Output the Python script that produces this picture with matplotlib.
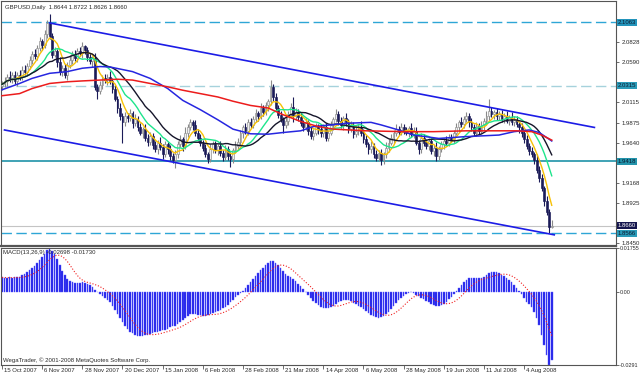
import numpy as np
import pandas as pd
import matplotlib
matplotlib.use("Agg")
import matplotlib.pyplot as plt
import matplotlib.transforms as mtransforms

plt.rcParams['font.family'] = ['Liberation Sans', 'DejaVu Sans']

# ---------------- data ----------------
opens = [
 2.0310, 2.0330, 2.0365, 2.0420, 2.0395, 2.0440, 2.0370, 2.0445, 2.0420, 2.0505,
 2.0480, 2.0545, 2.0620, 2.0690, 2.0660, 2.0760, 2.0840, 2.0800, 2.0920, 2.1050,
 2.0900, 2.0680, 2.0720, 2.0590, 2.0480, 2.0520, 2.0440, 2.0560, 2.0620, 2.0690,
 2.0640, 2.0720, 2.0700, 2.0780, 2.0730, 2.0650, 2.0600, 2.0640, 2.0300, 2.0250,
 2.0320, 2.0400, 2.0380, 2.0420, 2.0370, 2.0280, 2.0160, 2.0050, 1.9950, 1.9880,
 1.9960, 1.9930, 1.9990, 1.9870, 1.9920, 1.9830, 1.9760, 1.9800, 1.9700, 1.9650,
 1.9720, 1.9610, 1.9560, 1.9640, 1.9590, 1.9500, 1.9620, 1.9560, 1.9480, 1.9440,
 1.9500, 1.9620, 1.9680, 1.9600, 1.9760, 1.9820, 1.9880, 1.9850, 1.9760, 1.9700,
 1.9640, 1.9580, 1.9500, 1.9450, 1.9560, 1.9620, 1.9550, 1.9600, 1.9520, 1.9470,
 1.9560, 1.9480, 1.9450, 1.9550, 1.9600, 1.9650, 1.9750, 1.9820, 1.9780, 1.9880,
 1.9850, 1.9920, 1.9990, 1.9950, 2.0050, 2.0000, 2.0080, 2.0130, 2.0300, 2.0180,
 2.0050, 1.9970, 1.9920, 1.9850, 1.9900, 1.9980, 2.0060, 1.9950, 2.0000, 1.9940,
 1.9870, 1.9820, 1.9880, 1.9780, 1.9720, 1.9760, 1.9830, 1.9800, 1.9750, 1.9820,
 1.9700, 1.9760, 1.9850, 1.9920, 1.9980, 1.9900, 1.9850, 1.9930, 1.9880, 1.9800,
 1.9850, 1.9740, 1.9780, 1.9830, 1.9760, 1.9680, 1.9620, 1.9560, 1.9600, 1.9500,
 1.9460, 1.9520, 1.9440, 1.9500, 1.9580, 1.9640, 1.9700, 1.9760, 1.9800, 1.9770,
 1.9820, 1.9780, 1.9760, 1.9810, 1.9740, 1.9780, 1.9640, 1.9560, 1.9700, 1.9640,
 1.9600, 1.9660, 1.9540, 1.9580, 1.9480, 1.9560, 1.9620, 1.9660, 1.9640, 1.9700,
 1.9680, 1.9760, 1.9820, 1.9880, 1.9860, 1.9920, 1.9960, 1.9880, 1.9820, 1.9760,
 1.9840, 1.9780, 1.9850, 1.9900, 1.9950, 2.0020, 1.9980, 2.0000, 1.9950, 1.9980,
 1.9920, 1.9960, 1.9900, 1.9940, 1.9880, 1.9910, 1.9860, 1.9820, 1.9750, 1.9680,
 1.9600, 1.9540, 1.9500, 1.9440, 1.9320, 1.9220, 1.9100, 1.8950, 1.8820, 1.8644]

highs = [
 2.0365, 2.0415, 2.0448, 2.0482, 2.0480, 2.0485, 2.0475, 2.0500, 2.0543, 2.0553,
 2.0580, 2.0670, 2.0718, 2.0752, 2.0800, 2.0885, 2.0870, 2.0975, 2.1088, 2.1161,
 2.0935, 2.0770, 2.0748, 2.0652, 2.0560, 2.0565, 2.0590, 2.0675, 2.0728, 2.0738,
 2.0755, 2.0770, 2.0825, 2.0800, 2.0770, 2.0695, 2.0670, 2.0695, 2.0338, 2.0368,
 2.0435, 2.0450, 2.0448, 2.0482, 2.0410, 2.0325, 2.0190, 2.0105, 1.9988, 2.0008,
 1.9995, 2.0040, 2.0018, 1.9982, 1.9960, 1.9875, 1.9830, 1.9855, 1.9738, 1.9768,
 1.9755, 1.9660, 1.9668, 1.9702, 1.9630, 1.9665, 1.9650, 1.9615, 1.9518, 1.9548,
 1.9655, 1.9730, 1.9708, 1.9822, 1.9860, 1.9925, 1.9910, 1.9905, 1.9798, 1.9748,
 1.9675, 1.9630, 1.9528, 1.9622, 1.9660, 1.9665, 1.9630, 1.9655, 1.9558, 1.9608,
 1.9595, 1.9530, 1.9578, 1.9662, 1.9690, 1.9795, 1.9850, 1.9875, 1.9918, 1.9928,
 1.9955, 2.0040, 2.0018, 2.0112, 2.0090, 2.0125, 2.0160, 2.0385, 2.0338, 2.0228,
 2.0085, 2.0020, 1.9948, 1.9962, 2.0020, 2.0105, 2.0175, 2.0055, 2.0038, 1.9988,
 1.9905, 1.9930, 1.9908, 1.9842, 1.9800, 1.9875, 1.9860, 1.9855, 1.9858, 1.9868,
 1.9795, 1.9900, 1.9948, 2.0042, 2.0020, 1.9945, 1.9960, 1.9985, 1.9918, 1.9898,
 1.9885, 1.9830, 1.9858, 1.9892, 1.9800, 1.9725, 1.9650, 1.9655, 1.9638, 1.9548,
 1.9555, 1.9570, 1.9528, 1.9642, 1.9680, 1.9745, 1.9790, 1.9855, 1.9838, 1.9868,
 1.9855, 1.9830, 1.9838, 1.9872, 1.9820, 1.9825, 1.9670, 1.9755, 1.9738, 1.9688,
 1.9695, 1.9710, 1.9608, 1.9642, 1.9600, 1.9665, 1.9690, 1.9715, 1.9738, 1.9748,
 1.9795, 1.9870, 1.9908, 1.9942, 1.9960, 2.0005, 1.9990, 1.9935, 1.9858, 1.9888,
 1.9875, 1.9900, 1.9928, 2.0012, 2.0158, 2.0065, 2.0030, 2.0055, 2.0018, 2.0028,
 1.9995, 2.0010, 1.9968, 2.0002, 1.9950, 1.9955, 1.9890, 1.9875, 1.9788, 1.9728,
 1.9635, 1.9590, 1.9528, 1.9502, 1.9360, 1.9265, 1.9130, 1.9005, 1.8858, 1.8722]

lows = [
 2.0268, 2.0300, 2.0310, 2.0359, 2.0347, 2.0337, 2.0310, 2.0380, 2.0375, 2.0442,
 2.0438, 2.0515, 2.0565, 2.0624, 2.0612, 2.0727, 2.0740, 2.0760, 2.0875, 2.0862,
 2.0638, 2.0650, 2.0535, 2.0444, 2.0432, 2.0407, 2.0380, 2.0520, 2.0575, 2.0602,
 2.0598, 2.0670, 2.0645, 2.0694, 2.0602, 2.0567, 2.0540, 2.0260, 2.0160, 2.0212,
 2.0278, 2.0350, 2.0325, 2.0334, 2.0232, 2.0127, 1.9990, 1.9910, 1.9640, 1.9842,
 1.9888, 1.9900, 1.9815, 1.9834, 1.9782, 1.9727, 1.9700, 1.9660, 1.9605, 1.9612,
 1.9568, 1.9530, 1.9505, 1.9554, 1.9452, 1.9467, 1.9500, 1.9440, 1.9395, 1.9339,
 1.9458, 1.9590, 1.9545, 1.9564, 1.9712, 1.9787, 1.9790, 1.9720, 1.9655, 1.9602,
 1.9538, 1.9470, 1.9395, 1.9414, 1.9512, 1.9517, 1.9490, 1.9480, 1.9425, 1.9432,
 1.9438, 1.9350, 1.9395, 1.9514, 1.9552, 1.9617, 1.9690, 1.9740, 1.9735, 1.9812,
 1.9808, 1.9890, 1.9895, 1.9914, 1.9952, 1.9967, 2.0020, 2.0090, 2.0135, 2.0012,
 1.9928, 1.9890, 1.9760, 1.9814, 1.9852, 1.9947, 1.9890, 1.9910, 1.9895, 1.9832,
 1.9778, 1.9790, 1.9725, 1.9684, 1.9672, 1.9727, 1.9740, 1.9710, 1.9705, 1.9662,
 1.9658, 1.9730, 1.9795, 1.9884, 1.9852, 1.9817, 1.9790, 1.9840, 1.9755, 1.9762,
 1.9698, 1.9710, 1.9725, 1.9724, 1.9632, 1.9587, 1.9500, 1.9520, 1.9455, 1.9422,
 1.9418, 1.9370, 1.9385, 1.9464, 1.9532, 1.9607, 1.9640, 1.9720, 1.9725, 1.9732,
 1.9738, 1.9730, 1.9705, 1.9704, 1.9692, 1.9607, 1.9500, 1.9520, 1.9595, 1.9562,
 1.9558, 1.9510, 1.9485, 1.9420, 1.9432, 1.9527, 1.9560, 1.9600, 1.9595, 1.9642,
 1.9638, 1.9730, 1.9765, 1.9824, 1.9812, 1.9887, 1.9820, 1.9780, 1.9715, 1.9722,
 1.9738, 1.9750, 1.9795, 1.9864, 1.9902, 1.9947, 1.9920, 1.9910, 1.9905, 1.9882,
 1.9878, 1.9870, 1.9845, 1.9844, 1.9832, 1.9827, 1.9760, 1.9710, 1.9635, 1.9562,
 1.9498, 1.9470, 1.9385, 1.9284, 1.9172, 1.9067, 1.8890, 1.8780, 1.8566, 1.8626]

closes = [
 2.0330, 2.0365, 2.0420, 2.0395, 2.0440, 2.0370, 2.0445, 2.0420, 2.0505, 2.0480,
 2.0545, 2.0620, 2.0690, 2.0660, 2.0760, 2.0840, 2.0800, 2.0920, 2.1050, 2.0900,
 2.0680, 2.0720, 2.0590, 2.0480, 2.0520, 2.0440, 2.0560, 2.0620, 2.0690, 2.0640,
 2.0720, 2.0700, 2.0780, 2.0730, 2.0650, 2.0600, 2.0640, 2.0300, 2.0250, 2.0320,
 2.0400, 2.0380, 2.0420, 2.0370, 2.0280, 2.0160, 2.0050, 1.9950, 1.9880, 1.9960,
 1.9930, 1.9990, 1.9870, 1.9920, 1.9830, 1.9760, 1.9800, 1.9700, 1.9650, 1.9720,
 1.9610, 1.9560, 1.9640, 1.9590, 1.9500, 1.9620, 1.9560, 1.9480, 1.9440, 1.9500,
 1.9620, 1.9680, 1.9600, 1.9760, 1.9820, 1.9880, 1.9850, 1.9760, 1.9700, 1.9640,
 1.9580, 1.9500, 1.9450, 1.9560, 1.9620, 1.9550, 1.9600, 1.9520, 1.9470, 1.9560,
 1.9480, 1.9450, 1.9550, 1.9600, 1.9650, 1.9750, 1.9820, 1.9780, 1.9880, 1.9850,
 1.9920, 1.9990, 1.9950, 2.0050, 2.0000, 2.0080, 2.0130, 2.0300, 2.0180, 2.0050,
 1.9970, 1.9920, 1.9850, 1.9900, 1.9980, 2.0060, 1.9950, 2.0000, 1.9940, 1.9870,
 1.9820, 1.9880, 1.9780, 1.9720, 1.9760, 1.9830, 1.9800, 1.9750, 1.9820, 1.9700,
 1.9760, 1.9850, 1.9920, 1.9980, 1.9900, 1.9850, 1.9930, 1.9880, 1.9800, 1.9850,
 1.9740, 1.9780, 1.9830, 1.9760, 1.9680, 1.9620, 1.9560, 1.9600, 1.9500, 1.9460,
 1.9520, 1.9440, 1.9500, 1.9580, 1.9640, 1.9700, 1.9760, 1.9800, 1.9770, 1.9820,
 1.9780, 1.9760, 1.9810, 1.9740, 1.9780, 1.9640, 1.9560, 1.9700, 1.9640, 1.9600,
 1.9660, 1.9540, 1.9580, 1.9480, 1.9560, 1.9620, 1.9660, 1.9640, 1.9700, 1.9680,
 1.9760, 1.9820, 1.9880, 1.9860, 1.9920, 1.9960, 1.9880, 1.9820, 1.9760, 1.9840,
 1.9780, 1.9850, 1.9900, 1.9950, 2.0020, 1.9980, 2.0000, 1.9950, 1.9980, 1.9920,
 1.9960, 1.9900, 1.9940, 1.9880, 1.9910, 1.9860, 1.9820, 1.9750, 1.9680, 1.9600,
 1.9540, 1.9500, 1.9440, 1.9320, 1.9220, 1.9100, 1.8950, 1.8820, 1.8644, 1.8660]

# slow moving averages (read at sample bars)
blue_ma_bars = [0, 7, 12, 19, 26, 32, 39, 43, 52, 59, 66, 72, 79, 86, 92, 99, 106,
                112, 119, 124, 138, 147, 151, 158, 164, 174, 184, 191, 198, 204, 210, 214, 219]
blue_ma_vals = [2.0265, 2.0340, 2.0400, 2.0460, 2.0480, 2.0520, 2.0540, 2.0535, 2.0480,
                2.0400, 2.0280, 2.0140, 2.0030, 1.9910, 1.9800, 1.9745, 1.9740,
                1.9760, 1.9780, 1.9830, 1.9870, 1.9880, 1.9850, 1.9790, 1.9730,
                1.9690, 1.9710, 1.9720, 1.9730, 1.9770, 1.9790, 1.9760, 1.9660]
red_ma_bars = [0, 7, 12, 19, 26, 32, 39, 46, 52, 59, 66, 72, 79, 86, 92, 99, 106,
               112, 119, 126, 132, 145, 160, 172, 185, 198, 205, 211, 215, 219]
red_ma_vals = [2.0195, 2.0220, 2.0280, 2.0340, 2.0360, 2.0370, 2.0380, 2.0390, 2.0380,
               2.0340, 2.0300, 2.0260, 2.0220, 2.0180, 2.0130, 2.0080, 2.0050,
               1.9970, 1.9890, 1.9830, 1.9800, 1.9780, 1.9770, 1.9770, 1.9780,
               1.9780, 1.9780, 1.9770, 1.9730, 1.9670]

macd_hist = [
 0.0058, 0.0057, 0.0056, 0.0058, 0.0057, 0.0058, 0.0060, 0.0061,
 0.0066, 0.0072, 0.0078, 0.0086, 0.0094, 0.0103, 0.0115, 0.0128,
 0.0140, 0.0152, 0.0168, 0.01755, 0.0165, 0.0150, 0.0130, 0.0108,
 0.0085, 0.0066, 0.0052,
 0.0044, 0.0040, 0.0036, 0.0034, 0.0036, 0.0038, 0.0036, 0.0032, 0.0028,
 0.0020, 0.0010, 0.0002,
 -0.0008, -0.0016, -0.0022, -0.0030, -0.0040,
 -0.0055, -0.0070, -0.0088, -0.0105,
 -0.0120, -0.0135, -0.0148, -0.0158, -0.0165, -0.0170, -0.0174, -0.0176, -0.0175, -0.0172, -0.0170, -0.0166,
 -0.0162, -0.0160, -0.0158, -0.0156, -0.0152, -0.0150, -0.0146, -0.0140, -0.0136, -0.0134,
 -0.0128, -0.0120, -0.0112, -0.0102, -0.0094, -0.0088, -0.0086, -0.0088, -0.0090, -0.0093,
 -0.0094, -0.0094, -0.0092, -0.0088, -0.0084, -0.0080, -0.0076, -0.0070, -0.0064, -0.0058, -0.0050, -0.0040,
 -0.0030, -0.0020, -0.0012, -0.0004, 0.0006, 0.0016, 0.0028, 0.0040,
 0.0052, 0.0064, 0.0074, 0.0086, 0.0096, 0.0106, 0.0116, 0.0124,
 0.0122, 0.0116, 0.0106, 0.0094, 0.0082, 0.0072, 0.0064, 0.0058, 0.0050, 0.0042, 0.0032, 0.0022,
 0.0012, 0.0002, -0.0010, -0.0022, -0.0034, -0.0044, -0.0052, -0.0058, -0.0062, -0.0064, -0.0064, -0.0060,
 -0.0054, -0.0046, -0.0040, -0.0034, -0.0030, -0.0030, -0.0032, -0.0036, -0.0042, -0.0048, -0.0054, -0.0060,
 -0.0068, -0.0076, -0.0084, -0.0090, -0.0096, -0.0100, -0.0102, -0.0100, -0.0096, -0.0088, -0.0078, -0.0066, -0.0054, -0.0042,
 -0.0032, -0.0022, -0.0014, -0.0008, -0.0004, 0.0000, -0.0004, -0.0010, -0.0016, -0.0022, -0.0028, -0.0034, -0.0040, -0.0046,
 -0.0052, -0.0056, -0.0056, -0.0052, -0.0046, -0.0038, -0.0028, -0.0018, -0.0008, 0.0004,
 0.0016, 0.0028, 0.0038, 0.0048, 0.0054, 0.0056, 0.0056, 0.0054, 0.0054, 0.0056, 0.0060, 0.0066,
 0.0074, 0.0078, 0.0080, 0.0078, 0.0074, 0.0068, 0.0062, 0.0054, 0.0046, 0.0038, 0.0028, 0.0018,
 0.0006, -0.0008, -0.0022, -0.0038, -0.0048, -0.0060, -0.0080, -0.0104, -0.0132, -0.0172,
 -0.0210, -0.0250, -0.0291, -0.02698]

date_tick_bars = [0, 16, 32, 48, 64, 80, 96, 112, 128, 144, 160, 176, 192, 208]
date_tick_labels = ["15 Oct 2007", "6 Nov 2007", "28 Nov 2007", "20 Dec 2007", "15 Jan 2008",
                    "6 Feb 2008", "28 Feb 2008", "21 Mar 2008", "14 Apr 2008", "6 May 2008",
                    "28 May 2008", "19 Jun 2008", "11 Jul 2008", "4 Aug 2008"]

price_ticks = [2.0828, 2.0590, 2.0115, 1.9875, 1.9640, 1.9168, 1.8925, 1.8450]
price_tick_labels = ["2.0828", "2.0590", "2.0115", "1.9875", "1.9640", "1.9168", "1.8925", "1.8450"]

# channel trend lines (bar, price) end points
upper_channel = [(19, 2.1055), (236, 1.9820)]
lower_channel = [(1, 1.9790), (220, 1.8550)]

# horizontal levels: (price, colour, style)
levels = [(2.1063, '#2ea6d6', 'dash'), (2.0315, '#a6d2dc', 'dash'),
          (1.9418, '#3fa2b4', 'solid'), (1.8660, '#c4c4c4', 'thin'),
          (1.8566, '#2ea6d6', 'dash')]
level_labels = [("2.1063", '#2394bb', '#0a1a30'), ("2.0315", '#2a9bb8', '#0a1a30'),
                ("1.9418", '#2394ab', '#0a1a30'), ("1.8660", '#15164e', '#ffffff'),
                ("1.8566", '#2a9bb8', '#0a1a30')]

title_text = "GBPUSD,Daily  1.8644 1.8722 1.8626 1.8660"
macd_text = "MACD(13,26,9) -0.02698 -0.01730"
copy_text = "WegaTrader, \u00a9 2001-2008 MetaQuotes Software Corp."

# ---------------- drawing ----------------
o = np.array(opens); h = np.array(highs); l = np.array(lows); c = np.array(closes)
x = np.arange(len(c))
W, H = 640, 378
fig = plt.figure(figsize=(W / 100, H / 100), dpi=100)
fig.patch.set_facecolor('white')
ax = fig.add_axes([1 / W, (H - 246) / H, 615 / W, 245 / H])
axm = fig.add_axes([1 / W, (H - 365) / H, 615 / W, 117 / H])

FS = 4.3
TXT = '#2a2a2a'
SP = '#555555'

# candles
up = c >= o
ax.vlines(x[up], l[up], h[up], color='#8a8a8a', lw=0.8, zorder=2)
ax.vlines(x[~up], l[~up], h[~up], color='#1b1b58', lw=0.8, zorder=2)
body_lo = np.minimum(o, c)
body_h = np.maximum(np.abs(c - o), 0.0006)
ax.bar(x[up], body_h[up], bottom=body_lo[up], width=0.72, color='#f0f0f0',
       edgecolor='#8a8a8a', lw=0.45, zorder=3)
ax.bar(x[~up], body_h[~up], bottom=body_lo[~up], width=0.72, color='#1b1b58',
       edgecolor='#1b1b58', lw=0.45, zorder=3)

# moving averages
cs = pd.Series(c)
ax.plot(x, cs.rolling(6, min_periods=1).mean(), color='#f7c106', lw=1.0, zorder=4)
ax.plot(x, cs.rolling(13, min_periods=1).mean(), color='#1ee58c', lw=1.0, zorder=4)
ax.plot(x, cs.rolling(21, min_periods=1).mean(), color='#15152a', lw=1.0, zorder=4)
ax.plot(blue_ma_bars, blue_ma_vals, color='#2626e0', lw=1.1, zorder=4)
ax.plot(red_ma_bars, red_ma_vals, color='#ec1c1c', lw=1.1, zorder=4)

# channel lines
for seg in (upper_channel, lower_channel):
    ax.plot([seg[0][0], seg[1][0]], [seg[0][1], seg[1][1]], color='#1c1ce6', lw=1.2, zorder=5)

# horizontal levels
for val, col, sty in levels:
    if sty == 'dash':
        ax.axhline(val, color=col, lw=1.0, dashes=(7.5, 3.2), zorder=1)
    elif sty == 'solid':
        ax.axhline(val, color=col, lw=1.4, zorder=1)
    else:
        ax.axhline(val, color=col, lw=0.8, zorder=1)

trans = mtransforms.blended_transform_factory(ax.transAxes, ax.transData)
for (val, _, _), (lab, fc, tc) in zip(levels, level_labels):
    ax.text(1.003, val, lab, transform=trans, ha='left', va='center', fontsize=FS,
            color=tc, clip_on=False, zorder=10,
            bbox=dict(boxstyle='square,pad=0.18', fc=fc, ec='none'))

ax.set_xlim(-0.4, 244.6)
ax.set_ylim(1.8418, 2.1315)
ax.yaxis.tick_right()
ax.set_yticks(price_ticks)
ax.set_yticklabels(price_tick_labels)
ax.tick_params(axis='y', length=2.5, width=0.6, pad=1.5, labelsize=FS, colors=SP, labelcolor=TXT)
ax.set_xticks([])
for s in ax.spines.values():
    s.set_color(SP); s.set_linewidth(0.8)
ax.spines['bottom'].set_linewidth(1.6)
ax.text(0.006, 0.985, title_text, transform=ax.transAxes, ha='left', va='top',
        fontsize=FS, color=TXT)

# MACD panel
axm.bar(x, macd_hist, width=0.62, color='#1f1fe6', edgecolor='#5a5aff', lw=0.3, zorder=2)
sig = pd.Series(macd_hist).rolling(9, min_periods=1).mean()
axm.plot(x, sig, color='#f02020', lw=0.8, ls=(0, (1, 1.6)), zorder=3)
axm.set_xlim(-0.4, 244.6)
axm.set_ylim(-0.0291, 0.01755)
axm.yaxis.tick_right()
axm.set_yticks([0.01755, 0.0, -0.0291])
axm.set_yticklabels(['0.01755', '0.00', '-0.0291'])
axm.tick_params(axis='y', length=2.0, width=0.6, pad=0.8, labelsize=3.9, colors=SP, labelcolor=TXT)
axm.set_xticks(date_tick_bars)
axm.set_xticklabels([])
axm.tick_params(axis='x', length=3, width=0.6, colors=SP)
for s in axm.spines.values():
    s.set_color(SP); s.set_linewidth(0.8)
for b, lab in zip(date_tick_bars, date_tick_labels):
    axm.annotate(lab, xy=(b, 0), xycoords=('data', 'axes fraction'), xytext=(1.6, -2.2),
                 textcoords='offset points', ha='left', va='top', fontsize=FS,
                 color=TXT, annotation_clip=False)
axm.text(0.004, 0.985, macd_text, transform=axm.transAxes, ha='left', va='top',
         fontsize=FS, color=TXT)
axm.text(0.004, 0.02, copy_text, transform=axm.transAxes, ha='left', va='bottom',
         fontsize=FS, color=TXT)

fig.savefig('out.png', dpi=100, facecolor='white')
